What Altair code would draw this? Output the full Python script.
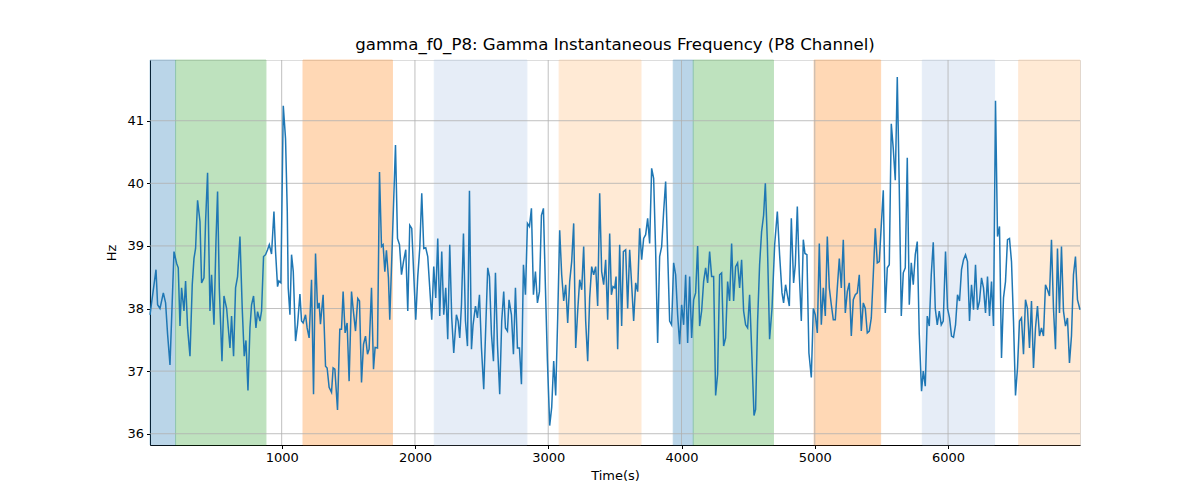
import altair as alt
import pandas as pd

# time stamps (s) and gamma instantaneous frequency (Hz)
times = [12, 57, 69, 87, 112, 129, 144, 162, 192, 212, 224, 237, 249, 267, 279, 294, 312, 329, 342, 354,
         369, 387, 399, 417, 429, 444, 462, 474, 492, 507, 519, 532, 552, 567, 587, 612, 624, 639, 654, 669,
         687, 704, 719, 732, 747, 762, 774, 789, 807, 819, 837, 849, 864, 879, 894, 907, 924, 942, 954, 969,
         979, 994, 1012, 1029, 1042, 1049, 1062, 1074, 1087, 1104, 1119, 1137,
         1149, 1161, 1179, 1191, 1206, 1224, 1239, 1254, 1269, 1281, 1291, 1311, 1329, 1341, 1356, 1374, 1386,
         1399, 1419, 1436, 1449, 1461, 1476, 1491, 1506, 1524, 1536, 1554, 1571, 1584, 1599, 1614, 1629, 1644,
         1656, 1674, 1689, 1701, 1719, 1734, 1749, 1761, 1774, 1786, 1801, 1811, 1854, 1869, 1884, 1899, 1914,
         1931, 1946, 1961, 1976, 1991, 2006, 2021, 2036, 2051, 2066, 2081, 2096, 2111, 2126, 2141, 2156, 2171,
         2186, 2201, 2216, 2231, 2246, 2261, 2276, 2291,
         2311, 2324, 2336, 2349, 2364, 2379, 2394, 2409, 2424, 2436, 2454, 2469, 2484, 2499, 2516, 2531, 2546,
         2559, 2574, 2589, 2604, 2619, 2636, 2651, 2666, 2679, 2694, 2706, 2724, 2739, 2754, 2769, 2784, 2799,
         2814, 2829, 2844, 2859, 2874, 2889, 2904, 2919, 2934, 2949, 2964, 2979, 2994, 3011, 3026, 3041, 3056,
         3071, 3086, 3101, 3116, 3131, 3146, 3161, 3176, 3191, 3206, 3221, 3236, 3251, 3266, 3281, 3296, 3311,
         3326, 3341, 3356, 3371, 3386, 3401, 3416, 3431, 3446, 3461,
         3474, 3486, 3499, 3509, 3521, 3536, 3551, 3564, 3581, 3596, 3611, 3626, 3641, 3656, 3671, 3686, 3701,
         3716, 3731, 3746, 3761, 3776, 3791, 3806, 3821, 3836, 3851, 3866, 3881, 3896, 3911, 3926, 3941, 3956,
         3971, 3986, 4001, 4016, 4031, 4046, 4061, 4076, 4091, 4106, 4121, 4136, 4151, 4166, 4181, 4196, 4211,
         4226, 4241, 4256, 4271, 4286, 4301, 4316, 4331, 4346, 4361, 4376, 4391, 4406, 4421, 4436, 4451, 4466,
         4481, 4496, 4511, 4526, 4544, 4556, 4571, 4586, 4601, 4616, 4629, 4644, 4661,
         4679, 4699, 4719, 4736, 4754, 4766, 4781, 4794, 4809, 4824, 4841, 4854, 4869, 4884, 4899, 4914, 4926,
         4941, 4956, 4974, 4989, 5004, 5019, 5034, 5049, 5064, 5079, 5094, 5109, 5124, 5139, 5154, 5169, 5184,
         5199, 5214, 5229, 5244, 5259, 5274, 5289, 5304, 5319, 5334, 5349, 5364, 5379, 5394, 5409, 5424, 5439,
         5454, 5469, 5484, 5499, 5514, 5529, 5544, 5559, 5574, 5589, 5604, 5619, 5634, 5649, 5664, 5679, 5694,
         5709, 5724, 5739, 5754, 5769, 5784, 5801,
         5814, 5829, 5844, 5859, 5874, 5889, 5904, 5919, 5934, 5949, 5964, 5981, 5996, 6011, 6026, 6041, 6056,
         6071, 6086, 6101, 6116, 6131, 6146, 6161, 6176, 6191, 6206, 6221, 6236, 6251, 6266, 6281, 6296, 6311,
         6326, 6341, 6356, 6371, 6386, 6401, 6416, 6431, 6446, 6461, 6476, 6491, 6506, 6521, 6536, 6551, 6566,
         6581, 6596, 6611, 6626, 6641, 6656, 6671, 6686, 6701, 6716, 6731, 6746, 6761, 6776, 6791, 6806, 6821,
         6836, 6851, 6866, 6881, 6896, 6911, 6926, 6941, 6956, 6971, 6990]

freq = [37.9, 38.62, 38.06, 38.0, 38.25, 38.09, 37.59, 37.1, 38.91, 38.72, 38.65, 37.72, 38.33, 37.96, 38.44,
        37.69, 37.24, 38.38, 38.8, 38.96, 39.73, 39.39, 38.41, 38.49, 39.39, 40.17, 37.96, 38.54, 37.74, 39.07,
        39.87, 38.33, 37.16, 38.2, 38.0, 37.37, 37.88, 37.24, 38.33, 38.51, 39.15, 38.0, 37.24, 37.49, 36.69,
        37.69, 38.06, 38.2, 37.69, 37.95, 37.8, 37.96, 38.83, 38.86, 38.94, 39.02, 38.87, 39.55, 38.91, 38.35,
        38.44, 38.41, 41.24, 40.71, 39.55, 38.33, 37.9, 38.86, 38.59, 37.48, 37.74, 38.23,
        37.8, 37.77, 37.9, 37.69, 37.53, 38.46, 36.63, 38.88, 38.0, 38.09, 37.75, 38.22, 37.08, 37.05, 36.74,
        36.66, 37.05, 37.03, 36.38, 37.67, 37.67, 38.27, 37.61, 37.77, 36.84, 38.27, 38.0, 37.64, 38.16, 38.12,
        36.82, 37.43, 37.56, 37.27, 37.35, 38.33, 37.03, 37.38, 37.37, 40.18, 38.99, 39.02, 38.59, 38.93, 38.49,
        37.82, 40.61, 39.12, 39.02, 38.54, 38.75, 38.94, 37.96, 39.33, 39.28, 38.54, 37.82, 38.51, 38.96, 39.84,
        38.96, 38.97, 38.83, 38.33, 37.82, 38.67, 38.17, 39.12, 37.88, 38.91, 37.9, 38.33, 37.51, 39.02, 37.85,
        37.29,
        37.9, 37.8, 37.53, 38.06, 39.2, 37.8, 37.4, 39.88, 37.35, 37.74, 38.04, 37.85, 38.22, 37.37, 36.71,
        37.69, 38.65, 38.51, 37.59, 37.16, 38.57, 37.43, 36.63, 37.8, 38.27, 37.69, 37.64, 38.14, 37.9, 37.27,
        38.33, 37.37, 37.37, 36.79, 38.7, 38.22, 39.36, 39.31, 39.6, 38.22, 38.59, 38.09, 38.27, 39.49, 39.6,
        38.33, 37.16, 36.13, 36.42, 37.16, 36.61, 37.85, 39.25, 38.54, 38.12, 38.38, 37.77, 38.43, 38.75, 39.36,
        37.37, 37.96, 38.46, 38.3, 38.99, 37.8, 37.16, 38.17, 38.67, 38.54, 38.67, 38.04, 39.84, 38.59, 38.38,
        38.78, 37.82, 39.2,
        38.22, 38.35, 38.33, 38.51, 37.35, 39.02, 37.72, 38.91, 38.94, 38.0, 38.94, 38.38, 37.8, 38.41, 38.27,
        39.28, 38.78, 39.12, 39.18, 39.44, 39.04, 40.24, 40.08, 38.91, 37.45, 38.83, 38.99, 39.55, 40.03, 38.91,
        37.8, 37.74, 38.73, 38.54, 37.9, 37.43, 38.06, 37.74, 38.54, 37.45, 38.51, 37.53, 38.14, 38.25, 39.0,
        37.72, 37.96, 38.43, 38.65, 38.41, 38.91, 38.51, 38.51, 36.61, 36.95, 38.54, 38.57, 37.4, 37.53, 38.43,
        38.12, 39.04, 38.12, 38.67, 38.73, 38.33, 38.78, 37.96, 37.74, 37.69, 38.22, 37.37, 36.29, 36.39, 37.8,
        38.7, 39.23, 39.49, 40.0, 39.07, 37.51,
        38.0, 39.02, 39.55, 38.86, 38.25, 38.09, 38.38, 38.22, 38.04, 39.44, 38.41, 38.7, 39.63, 38.54, 37.8,
        39.1, 38.88, 38.86, 37.29, 36.9, 38.0, 37.9, 37.61, 39.04, 37.74, 38.33, 37.88, 39.15, 38.33, 38.06,
        37.82, 37.82, 38.33, 38.8, 38.33, 39.1, 37.93, 38.27, 38.41, 37.56, 38.14, 38.22, 38.25, 38.54, 37.64,
        38.09, 38.0, 37.61, 37.64, 37.85, 38.54, 39.28, 38.73, 38.75, 39.33, 39.89, 37.93, 38.65, 38.7, 40.95,
        40.55, 40.05, 41.7, 39.92, 37.88, 38.57, 38.65, 40.41, 38.06, 38.73, 38.38, 38.86, 39.07, 37.59, 36.68,
        37.0, 36.76, 37.88, 37.72, 38.54, 39.06, 38.0, 37.74, 37.96, 37.74, 37.8, 38.91, 38.0, 37.85, 37.56,
        37.54, 37.74, 38.22, 38.12, 38.62, 38.78, 38.86, 38.75, 37.8, 38.38, 37.98, 38.7, 37.98, 38.12, 38.49,
        38.33, 37.93, 38.51, 37.88, 38.43, 37.72, 41.32, 39.15, 39.31, 37.21, 38.17, 38.43, 39.1, 39.12, 38.75,
        37.8, 36.61, 37.05, 37.8, 37.85, 37.27, 38.14, 38.0, 37.37, 38.12, 37.05, 37.69, 38.04, 37.56, 37.69,
        37.56, 38.38, 38.3, 38.2, 39.1, 38.0, 37.35, 38.96, 37.93, 38.99, 37.96, 37.72, 37.85, 37.13, 37.56,
        38.54, 38.83, 38.14, 37.98]

# shaded intervals
span_start = [12, 204, 1160, 2145, 3082, 3938, 4088, 4995, 5807, 6530]
span_end = [204, 882, 1831, 2840, 3696, 4088, 4690, 5494, 6349, 6990]
span_color = ["#1f77b4", "#2ca02c", "#ff7f0e", "#aec7e8", "#ffbb78",
              "#1f77b4", "#2ca02c", "#ff7f0e", "#aec7e8", "#ffbb78"]
span_alpha = [0.3] * 10

x_ticks = [1000, 2000, 3000, 4000, 5000, 6000]
y_ticks = [36, 37, 38, 39, 40, 41]

n = min(len(times), len(freq))
line_df = pd.DataFrame({"t": times[:n], "f": freq[:n]})
span_df = pd.DataFrame({"s": span_start, "e": span_end, "c": span_color, "a": span_alpha})
xg_df = pd.DataFrame({"t": x_ticks})
yg_df = pd.DataFrame({"f": y_ticks})

FONT = "DejaVu Sans"
xscale = alt.Scale(domain=[12, 6990], nice=False, zero=False)
yscale = alt.Scale(domain=[35.82, 41.97], nice=False, zero=False)

xaxis = alt.Axis(values=x_ticks, title="Time(s)", grid=False, tickSize=3.5, tickColor="black",
                 domainColor="black", labelFont=FONT, labelFontSize=13, labelColor="black",
                 titleFont=FONT, titleFontSize=13, titleFontWeight="normal", titleColor="black",
                 labelPadding=3, titlePadding=5, format="d", labelFlush=False)
yaxis = alt.Axis(values=y_ticks, title="Hz", grid=False, tickSize=3.5, tickColor="black",
                 domainColor="black", labelFont=FONT, labelFontSize=13, labelColor="black",
                 titleFont=FONT, titleFontSize=13, titleFontWeight="normal", titleColor="black",
                 labelPadding=3, titlePadding=8, format="d")

spans = alt.Chart(span_df).mark_rect(strokeWidth=1).encode(
    x=alt.X("s:Q", scale=xscale, axis=xaxis),
    x2="e:Q",
    y=alt.value(0),
    y2=alt.value(385),
    color=alt.Color("c:N", scale=None),
    stroke=alt.Color("c:N", scale=None),
    opacity=alt.Opacity("a:Q", scale=None),
)

xgrid = alt.Chart(xg_df).mark_rule(color="#b0b0b0", strokeWidth=0.8).encode(
    x=alt.X("t:Q", scale=xscale),
)
ygrid = alt.Chart(yg_df).mark_rule(color="#b0b0b0", strokeWidth=0.8).encode(
    y=alt.Y("f:Q", scale=yscale, axis=yaxis),
)

line = alt.Chart(line_df).mark_line(color="#1f77b4", strokeWidth=1.5).encode(
    x=alt.X("t:Q", scale=xscale),
    y=alt.Y("f:Q", scale=yscale),
)

chart = alt.layer(spans, xgrid, ygrid, line).properties(
    width=930,
    height=385,
    title=alt.TitleParams("gamma_f0_P8: Gamma Instantaneous Frequency (P8 Channel)",
                          font=FONT, fontSize=16.6, fontWeight="normal", color="black",
                          anchor="middle", offset=6),
    padding={"left": 142, "top": 52, "right": 112, "bottom": 47},
    autosize=alt.AutoSizeParams(type="none"),
).configure_view(stroke="black", strokeWidth=1).configure(background="white")

chart.save("out.html", embed_options={"renderer": "svg", "actions": False})
